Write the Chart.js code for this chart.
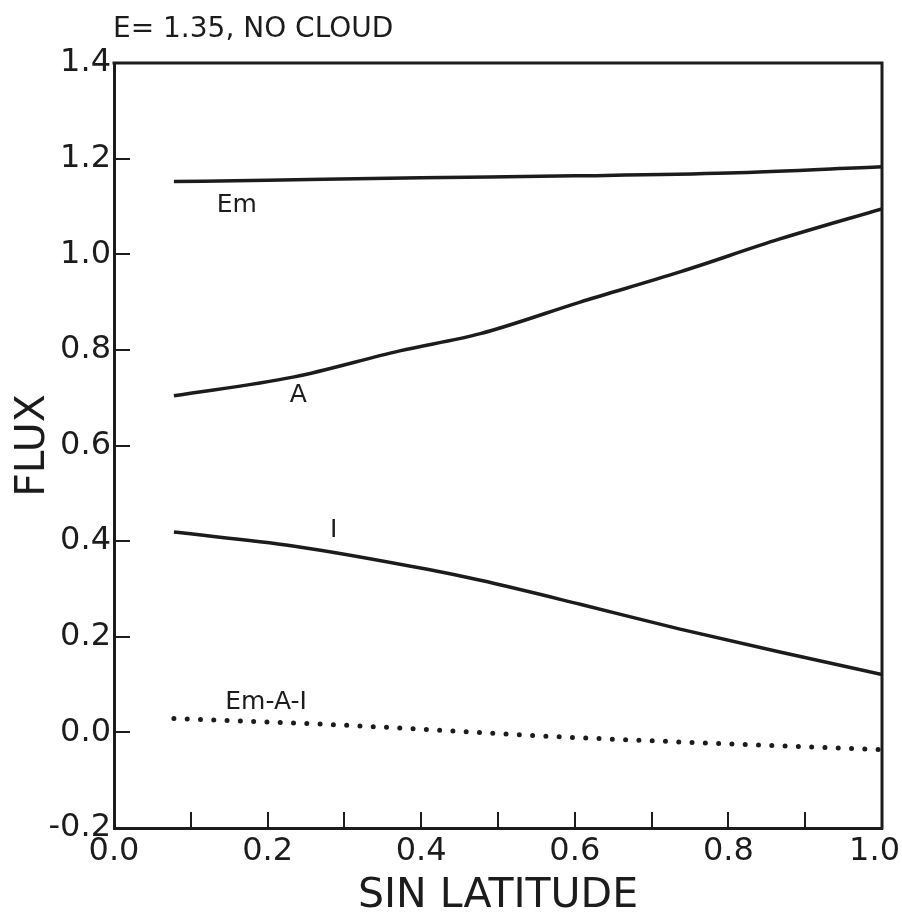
<!DOCTYPE html>
<html>
<head>
<meta charset="utf-8">
<script src="https://cdn.jsdelivr.net/npm/chart.js@4.4.1/dist/chart.umd.min.js"></script>
<style>
  html, body { margin: 0; padding: 0; background: #fff; }
</style>
</head>
<body>
<canvas id="fluxChart" width="902" height="913"></canvas>
<script>
// values (x = sin latitude, y = flux)
const emX = [0.078, 0.2, 0.4, 0.6, 0.8, 1.0];
const emY = [1.152, 1.155, 1.160, 1.164, 1.170, 1.183];

const aX = [0.078, 0.233, 0.372, 0.477, 0.607, 0.737, 0.867, 1.0];
const aY = [0.704, 0.743, 0.798, 0.834, 0.900, 0.963, 1.032, 1.095];

const iX = [0.078, 0.233, 0.408, 0.477, 0.607, 0.737, 0.867, 1.0];
const iY = [0.419, 0.390, 0.341, 0.318, 0.268, 0.216, 0.168, 0.121];

const resX = [0.078, 0.3, 0.564, 0.8, 1.0];
const resY = [0.029, 0.015, -0.008, -0.024, -0.036];

const curveNames = ['Em', 'A', 'I', 'Em-A-I'];
const curveNameX = [0.16, 0.24, 0.286, 0.198];
const curveNameY = [1.102, 0.704, 0.423, 0.063];

const titleText = 'E= 1.35, NO CLOUD';

const ink = '#1c1c1c';
const face = '"DejaVu Sans", sans-serif';

const pairs = (xs, ys) => xs.map((x, i) => ({ x: x, y: ys[i] }));
const fmt = v => (Math.abs(v) < 1e-9 ? 0 : v).toFixed(1);

// box, inward ticks, x tick labels, title and curve names
const figureDecor = {
    id: 'figureDecor',
    afterDraw(chart) {
        const { ctx, chartArea: a, scales: { x, y } } = chart;
        ctx.save();
        ctx.strokeStyle = ink;
        ctx.lineCap = 'square';

        // top and right edges of the frame
        ctx.lineWidth = 3;
        ctx.beginPath();
        ctx.moveTo(a.left, a.top);
        ctx.lineTo(a.right, a.top);
        ctx.lineTo(a.right, a.bottom);
        ctx.stroke();

        // ticks pointing into the plot
        ctx.lineWidth = 2;
        ctx.lineCap = 'butt';
        x.ticks.forEach(t => {
            if (t.value < 0.05 || t.value > 0.95) return;
            const px = Math.round(x.getPixelForValue(t.value));
            ctx.beginPath();
            ctx.moveTo(px, a.bottom);
            ctx.lineTo(px, a.bottom - 16);
            ctx.stroke();
        });
        y.ticks.forEach(t => {
            if (t.value < -0.1 || t.value > 1.3) return;
            const py = Math.round(y.getPixelForValue(t.value));
            ctx.beginPath();
            ctx.moveTo(a.left, py);
            ctx.lineTo(a.left + 16, py);
            ctx.stroke();
        });

        // x tick labels every 0.2, kept inside the canvas
        ctx.fillStyle = ink;
        ctx.font = '32px ' + face;
        ctx.textAlign = 'center';
        ctx.textBaseline = 'middle';
        x.ticks.forEach((t, i) => {
            if (i % 2) return;
            const label = fmt(t.value);
            const half = ctx.measureText(label).width / 2;
            const px = Math.min(x.getPixelForValue(t.value), chart.width - 2 - half);
            ctx.fillText(label, px, a.bottom + 24);
        });

        // heading
        ctx.font = '28px ' + face;
        ctx.textAlign = 'left';
        ctx.textBaseline = 'alphabetic';
        ctx.fillText(titleText, 113, 37);

        // curve names
        ctx.font = '25px ' + face;
        ctx.textAlign = 'center';
        ctx.textBaseline = 'middle';
        curveNames.forEach((name, i) => {
            ctx.fillText(name, x.getPixelForValue(curveNameX[i]), y.getPixelForValue(curveNameY[i]));
        });
        ctx.restore();
    }
};

const solid = {
    borderColor: ink,
    borderWidth: 3.5,
    pointRadius: 0,
    fill: false,
    cubicInterpolationMode: 'monotone'
};

new Chart(document.getElementById('fluxChart'), {
    type: 'line',
    data: {
        datasets: [
            { ...solid, label: 'Em', data: pairs(emX, emY) },
            { ...solid, label: 'A', data: pairs(aX, aY) },
            { ...solid, label: 'I', data: pairs(iX, iY) },
            {
                label: 'Em-A-I',
                data: pairs(resX, resY),
                borderColor: ink,
                borderWidth: 5,
                borderDash: [0, 13.3],
                borderCapStyle: 'round',
                pointRadius: 0,
                fill: false,
                cubicInterpolationMode: 'monotone'
            }
        ]
    },
    options: {
        responsive: false,
        animation: false,
        layout: { padding: { top: 63, right: 20, left: 0, bottom: 0 } },
        plugins: {
            legend: { display: false },
            tooltip: { enabled: false }
        },
        scales: {
            x: {
                type: 'linear',
                min: 0,
                max: 1,
                ticks: {
                    display: false,
                    stepSize: 0.1,
                    autoSkip: false,
                    maxRotation: 0
                },
                grid: { display: false, drawTicks: false },
                border: { display: true, color: ink, width: 3 },
                title: {
                    display: true,
                    text: 'SIN LATITUDE',
                    color: ink,
                    font: { family: face, size: 41, lineHeight: 0.8 },
                    padding: { top: 0, bottom: 0 }
                },
                afterFit: s => {
                    s.height = 85;
                    s.paddingLeft = 0;
                    s.paddingRight = 0;
                }
            },
            y: {
                type: 'linear',
                min: -0.2,
                max: 1.4,
                ticks: {
                    stepSize: 0.2,
                    padding: 3,
                    color: ink,
                    font: { family: face, size: 32 },
                    callback: v => fmt(v)
                },
                grid: { display: false, drawTicks: false },
                border: { display: true, color: ink, width: 3 },
                title: {
                    display: true,
                    text: 'FLUX',
                    color: ink,
                    font: { family: face, size: 41, lineHeight: 1 },
                    padding: { top: 13, bottom: 0 }
                },
                afterFit: s => {
                    s.width = 114;
                    s.paddingTop = 0;
                    s.paddingBottom = 0;
                }
            }
        }
    },
    plugins: [figureDecor]
});
</script>
</body>
</html>
